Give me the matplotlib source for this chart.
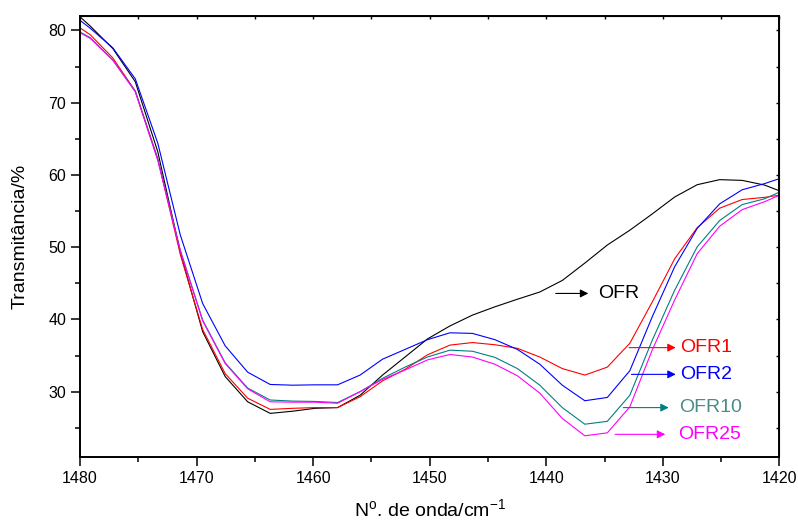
import matplotlib
matplotlib.use("Agg")
import matplotlib.pyplot as plt
from matplotlib.ticker import MultipleLocator

plt.rcParams['font.family'] = ['Liberation Sans', 'DejaVu Sans']
plt.rcParams['mathtext.fontset'] = 'custom'
plt.rcParams['mathtext.rm'] = 'Liberation Sans'

# wavenumber (cm-1), sampled every ~1.93 cm-1
wavenumber = [1481.04, 1479.12, 1477.19, 1475.26, 1473.33, 1471.40, 1469.48, 1467.55,
              1465.62, 1463.69, 1461.76, 1459.84, 1457.91, 1455.98, 1454.05, 1452.12,
              1450.20, 1448.27, 1446.34, 1444.41, 1442.48, 1440.56, 1438.63, 1436.70,
              1434.77, 1432.84, 1430.92, 1428.99, 1427.06, 1425.13, 1423.20, 1421.28,
              1419.35]

ofr = [83.4, 80.6, 77.5, 72.9, 63.2, 49.3, 38.3, 32.1, 28.6, 27.0, 27.3, 27.7, 27.8,
       29.5, 32.3, 34.8, 37.3, 39.1, 40.6, 41.75, 42.8, 43.8, 45.4, 47.8, 50.3, 52.35,
       54.6, 56.95, 58.65, 59.35, 59.25, 58.6, 57.4]
ofr1 = [81.5, 79.4, 76.2, 71.6, 62.2, 49.0, 38.6, 32.5, 29.1, 27.55, 27.7, 27.8, 27.8,
        29.3, 31.5, 33.1, 35.1, 36.45, 36.8, 36.5, 36.0, 34.8, 33.2, 32.3, 33.4, 36.7,
        42.4, 48.4, 52.7, 55.4, 56.6, 56.9, 57.35]
ofr2 = [82.7, 80.3, 77.6, 73.3, 64.4, 51.7, 42.2, 36.35, 32.7, 31.0, 30.9, 30.95, 30.95,
        32.3, 34.5, 35.85, 37.2, 38.15, 38.07, 37.2, 35.85, 33.8, 30.9, 28.75, 29.2, 32.9,
        40.35, 47.3, 52.6, 56.0, 57.95, 58.8, 59.85]
ofr10 = [80.7, 79.0, 75.9, 71.6, 62.2, 49.6, 39.9, 34.0, 30.5, 28.85, 28.7, 28.65, 28.5,
         30.0, 31.85, 33.4, 34.8, 35.75, 35.6, 34.75, 33.2, 30.9, 27.8, 25.5, 25.9, 29.5,
         37.1, 44.05, 50.05, 53.7, 55.9, 56.7, 58.1]
ofr25 = [80.6, 78.9, 75.9, 71.5, 62.0, 49.5, 39.8, 33.9, 30.4, 28.6, 28.55, 28.55, 28.4,
         30.0, 31.7, 33.0, 34.4, 35.15, 34.8, 33.8, 32.2, 29.8, 26.3, 23.9, 24.3, 27.9,
         35.75, 42.7, 49.1, 52.9, 55.2, 56.3, 57.65]

series_names = ['OFR', 'OFR1', 'OFR2', 'OFR10', 'OFR25']
line_colors = ['black', '#FF0000', '#0000FF', '#008080', '#FF00FF']
text_colors = ['black', '#FF0000', '#0000FF', '#4A8C89', '#FF00FF']

# arrow tail, arrow head, height and text position for each label
arrow_tail = [1439.2, 1432.9, 1432.7, 1433.4, 1434.1]
arrow_head = [1436.4, 1428.9, 1428.9, 1429.5, 1429.8]
label_y = [43.6, 36.1, 32.4, 27.8, 24.1]
label_x = [1435.6, 1428.5, 1428.5, 1428.6, 1428.7]

fig = plt.figure(figsize=(7.98, 5.2), dpi=100)
ax = fig.add_axes([0.1003, 0.1217, 0.8765, 0.8475])

for vals, col in zip([ofr, ofr1, ofr2, ofr10, ofr25], line_colors):
    ax.plot(wavenumber, vals, color=col, lw=0.8)

for i in range(len(series_names)):
    ax.annotate('', xy=(arrow_head[i], label_y[i]), xytext=(arrow_tail[i], label_y[i]),
                arrowprops=dict(arrowstyle='-|>', color=line_colors[i], lw=0.8,
                                mutation_scale=12, shrinkA=0, shrinkB=0))
    ax.text(label_x[i], label_y[i], series_names[i], color=text_colors[i],
            fontsize=14, va='center', ha='left')

ax.set_xlim(1480, 1420)
ax.set_ylim(21, 82)
ax.xaxis.set_major_locator(MultipleLocator(10))
ax.xaxis.set_minor_locator(MultipleLocator(5))
ax.yaxis.set_major_locator(MultipleLocator(10))
ax.yaxis.set_minor_locator(MultipleLocator(5))
ax.tick_params(which='major', direction='out', length=6.5, width=1.1, labelsize=11.5)
ax.tick_params(which='minor', direction='out', length=3.5, width=1.1)
for sp in ax.spines.values():
    sp.set_linewidth(1.4)

# short inward ticks on the top and right frame
sec_x = ax.secondary_xaxis('top')
sec_x.xaxis.set_major_locator(MultipleLocator(10))
sec_x.xaxis.set_minor_locator(MultipleLocator(5))
sec_x.tick_params(which='both', direction='in', length=2.5, width=1.0, labeltop=False)
sec_y = ax.secondary_yaxis('right')
sec_y.yaxis.set_major_locator(MultipleLocator(10))
sec_y.yaxis.set_minor_locator(MultipleLocator(5))
sec_y.tick_params(which='both', direction='in', length=2.5, width=1.0, labelright=False)

ax.set_xlabel(r'N$^\mathregular{o}$. de onda/cm$^\mathregular{-1}$', fontsize=14, labelpad=9)
ax.set_ylabel('Transmitância/%', fontsize=14, labelpad=14)

fig.savefig('out.png', dpi=100)
